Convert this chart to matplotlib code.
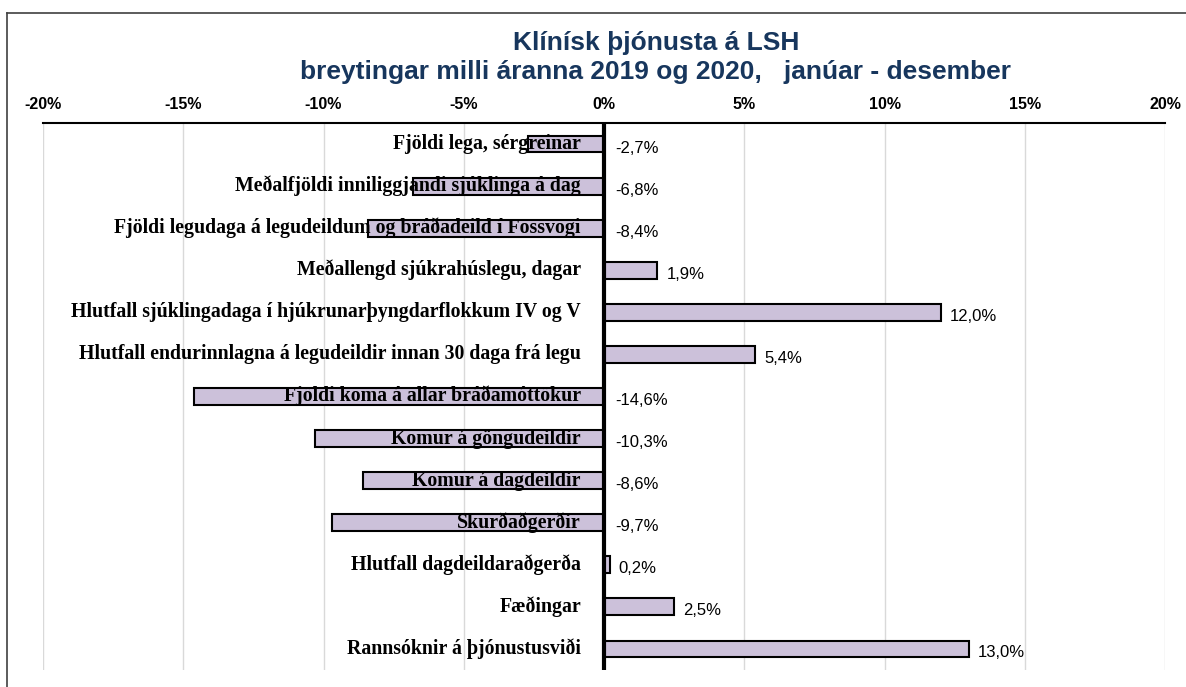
import numpy as np
import matplotlib
matplotlib.use("Agg")
import matplotlib.pyplot as plt
from matplotlib.lines import Line2D
from matplotlib.transforms import offset_copy

# data
categories = [
    "Fjöldi lega, sérgreinar",
    "Meðalfjöldi inniliggjandi sjúklinga á dag",
    "Fjöldi legudaga á legudeildum og bráðadeild í Fossvogi",
    "Meðallengd sjúkrahúslegu, dagar",
    "Hlutfall sjúklingadaga í hjúkrunarþyngdarflokkum IV og V",
    "Hlutfall endurinnlagna á legudeildir innan 30 daga frá legu",
    "Fjöldi koma á allar bráðamóttökur",
    "Komur á göngudeildir",
    "Komur á dagdeildir",
    "Skurðaðgerðir",
    "Hlutfall dagdeildaraðgerða",
    "Fæðingar",
    "Rannsóknir á þjónustusviði",
]
changes = [-2.7, -6.8, -8.4, 1.9, 12.0, 5.4, -14.6, -10.3, -8.6, -9.7, 0.2, 2.5, 13.0]
xticks = [-20, -15, -10, -5, 0, 5, 10, 15, 20]

title1 = "Klínísk þjónusta á LSH"
title2 = "breytingar milli áranna 2019 og 2020,   janúar - desember"

W, H = 1186, 687
fig = plt.figure(figsize=(W / 100, H / 100), dpi=100)
ax = fig.add_axes([43 / W, 1 - 670 / H, (1165 - 43) / W, (670 - 123) / H])

y = np.arange(len(categories))
ax.barh(y, changes, height=0.4, color="#CCC1DA", edgecolor="black", linewidth=1.5, zorder=2)
ax.axvline(0, color="black", linewidth=3, zorder=3)

ax.set_xlim(-20, 20)
ax.set_ylim(len(categories) - 0.5, -0.5)
ax.set_xticks(xticks)
ax.set_xticklabels([f"{t}%" for t in xticks], fontsize=11.5, fontweight="bold",
                   family=["Liberation Sans", "DejaVu Sans"])
ax.xaxis.tick_top()
ax.tick_params(axis="x", length=0, pad=8)
ax.set_yticks([])
ax.grid(axis="x", color="#D9D9D9", linewidth=1, zorder=0)
ax.set_axisbelow(True)
for s in ["left", "right", "bottom"]:
    ax.spines[s].set_visible(False)
ax.spines["top"].set_linewidth(1.5)

# category labels, right aligned just left of the zero line, baseline on the bar's lower edge
lab_tr = offset_copy(ax.transData, fig=fig, x=-23, y=-5, units="dots")
for i, name in enumerate(categories):
    ax.text(0, i, name, transform=lab_tr, ha="right", va="baseline", fontsize=14.3,
            fontweight="bold", family=["Liberation Serif", "DejaVu Serif"], zorder=4)

# value labels
neg_tr = offset_copy(ax.transData, fig=fig, x=11, y=-4, units="dots")
pos_tr = offset_copy(ax.transData, fig=fig, x=9, y=-4, units="dots")
for i, v in enumerate(changes):
    txt = f"{v:.1f}%".replace(".", ",")
    if v < 0:
        ax.text(0, i, txt, transform=neg_tr, ha="left", va="center", fontsize=12,
                family=["Liberation Sans", "DejaVu Sans"], zorder=4)
    else:
        ax.text(v, i, txt, transform=pos_tr, ha="left", va="center", fontsize=12,
                family=["Liberation Sans", "DejaVu Sans"], zorder=4)

# titles
fig.text(656 / W, 1 - 43 / H, title1, ha="center", va="center", fontsize=19,
         fontweight="bold", color="#17365D", family=["Liberation Sans", "DejaVu Sans"])
fig.text(656 / W, 1 - 72 / H, title2, ha="center", va="center", fontsize=19,
         fontweight="bold", color="#17365D", family=["Liberation Sans", "DejaVu Sans"])

# outer chart frame (top and left edges visible)
fig.add_artist(Line2D([7 / W, 1], [1 - 13 / H, 1 - 13 / H], color="#404040", linewidth=1.2))
fig.add_artist(Line2D([7 / W, 7 / W], [0, 1 - 13 / H], color="#404040", linewidth=1.2))

fig.savefig("out.png", dpi=100)
